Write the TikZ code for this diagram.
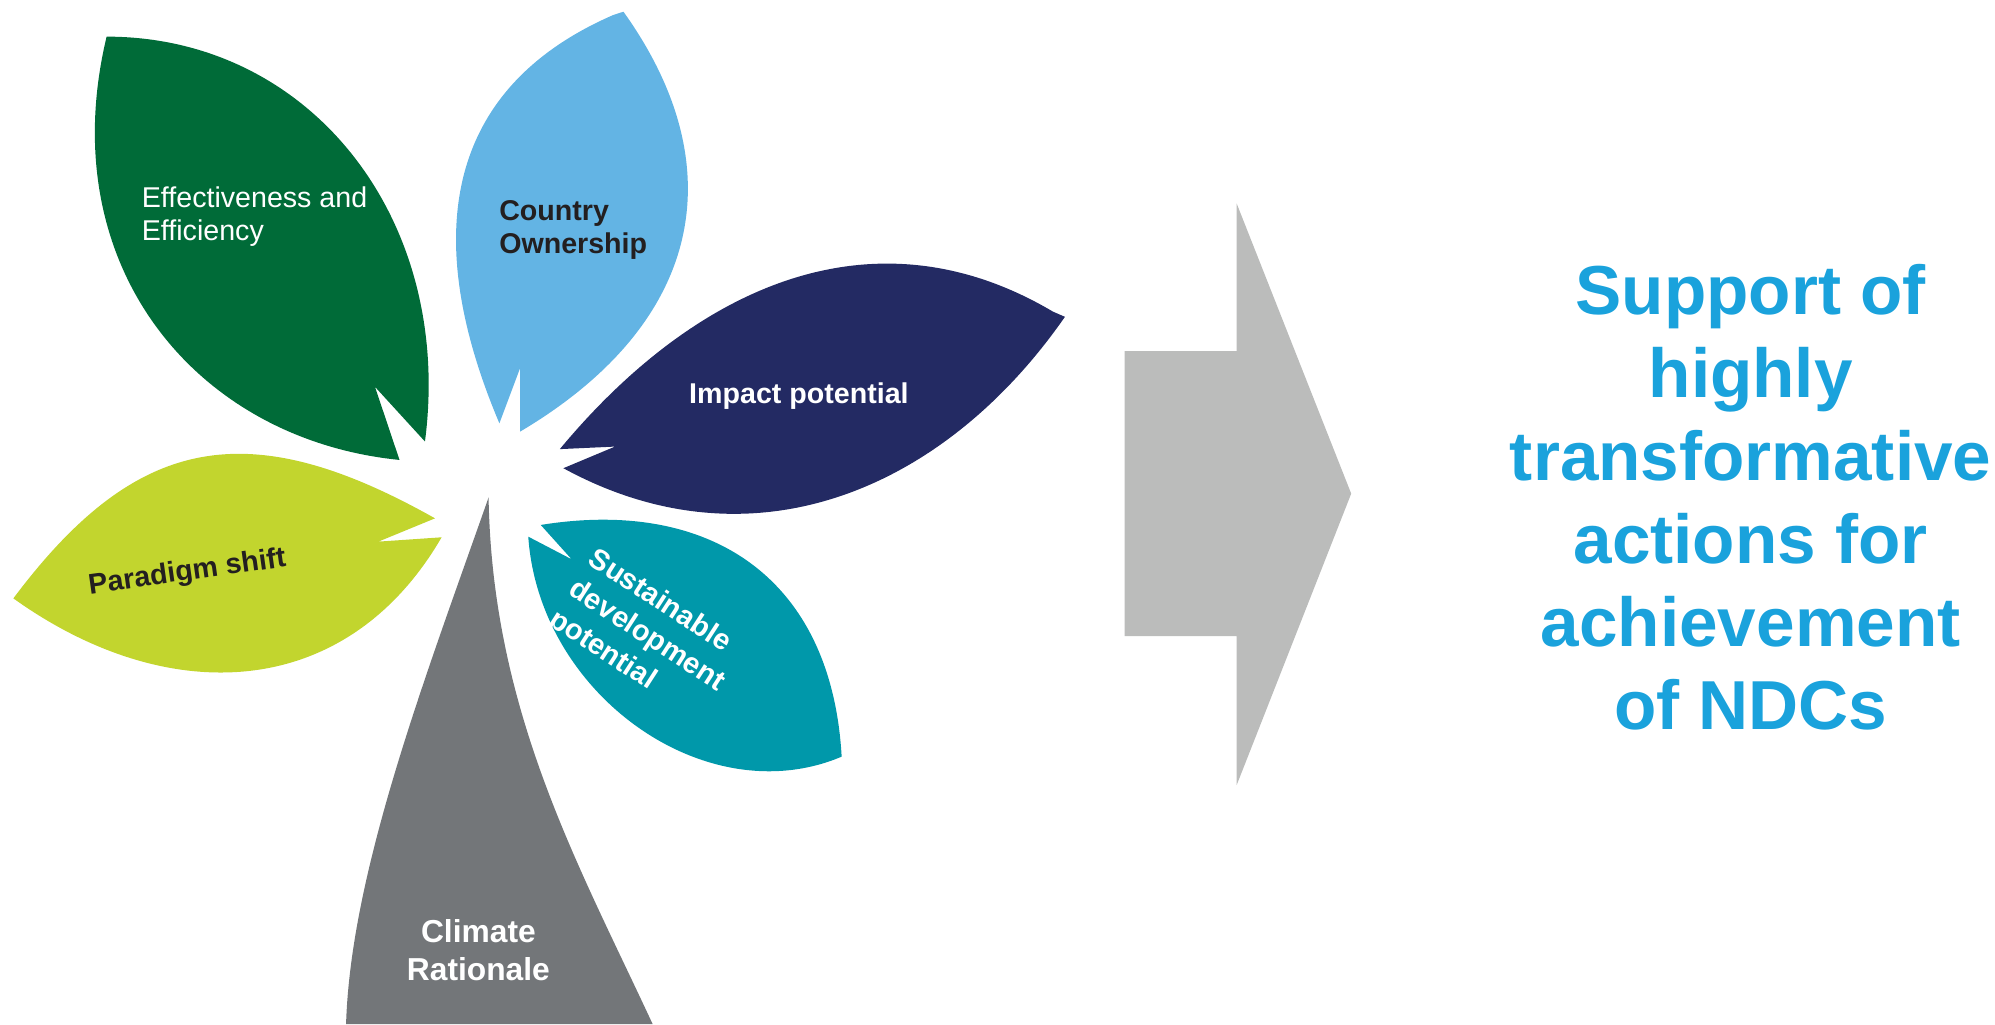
\documentclass[tikz,border=0pt]{standalone}
\usepackage{fontspec}
\setmainfont{Liberation Sans}
\definecolor{effgreen}{HTML}{006B38}
\definecolor{ownblue}{HTML}{63B4E4}
\definecolor{impnavy}{HTML}{232A63}
\definecolor{parlime}{HTML}{C2D52E}
\definecolor{susteal}{HTML}{0098AA}
\definecolor{climgray}{HTML}{737679}
\definecolor{arrowgray}{HTML}{BBBCBB}
\definecolor{goalblue}{HTML}{1AA2DC}
\definecolor{darktext}{HTML}{231F20}
\tikzset{leaftext/.style={inner sep=0pt, align=left, font=\fontsize{6.4}{7.5}\selectfont\bfseries}}

\begin{document}
\begin{tikzpicture}[x=0.1mm, y=-0.1mm]
\useasboundingbox (0,0) rectangle (1568,805);
\fill[effgreen] (314,361.5) .. controls (154,345.5) and (40.6,208.8) .. (83.8,28.8)
  .. controls (243.8,28.8) and (356.8,172) .. (334,347) -- (294.7,304) -- cycle;
\fill[ownblue] (392.5,332.7) .. controls (328.2,180.9) and (353.2,67.8) .. (482,11.8) -- (490,9.2)
  .. controls (577,130.7) and (553.2,253.6) .. (408.7,339.3) -- (408.7,289.5) -- cycle;
\fill[impnavy] (440,353) .. controls (545.6,225.9) and (685.8,160.9) .. (827.7,245) -- (837,249)
  .. controls (743,384.3) and (592.4,449.6) .. (442.8,368) -- (483.4,351) -- cycle;
\fill[parlime] (10.5,470.3) .. controls (106.5,342.3) and (194,324.1) .. (341.9,407.4) -- (297.4,425.7)
  -- (347.1,422.3) .. controls (272.1,551.3) and (132,557.3) .. (10.5,470.3) -- cycle;
\fill[susteal] (425,412.6) .. controls (558.7,391) and (653.7,454.7) .. (661.5,594.7)
  .. controls (555.7,639.6) and (423.9,546.8) .. (415.2,421.8) -- (449.3,439.6) -- cycle;
\fill[climgray] (272,805) .. controls (275.6,685) and (334.5,532) .. (384,391)
  .. controls (387,560) and (455,680) .. (513,805) -- cycle;
\fill[arrowgray] (884,276) -- (972,276) -- (972,160) -- (1062,388) -- (972,617) -- (972,500) -- (884,500) -- cycle;
\node[leaftext, text=white, anchor=north west, font=\fontsize{6.4}{7.45}\selectfont] (effect) at (110.8,146) {Effectiveness and\\Efficiency};
\node[leaftext, text=darktext, anchor=north west] (owner) at (391.7,156.7) {Country\\Ownership};
\node[leaftext, text=white, anchor=base west] (impact) at (541,317) {Impact potential};
\node[leaftext, text=darktext, anchor=base west, rotate=8] (paradigm) at (70,467) {Paradigm shift};
\node[leaftext, text=white, anchor=north west, rotate=-33, font=\fontsize{6.5}{8.1}\selectfont\bfseries] (sustain) at (470,428) {Sustainable\\development\\potential};
\node[leaftext, align=center, text=white, anchor=north, font=\fontsize{7.1}{8.5}\selectfont\bfseries] (climate) at (376,722) {Climate\\Rationale};
\node[inner sep=0pt, align=center, text=goalblue, anchor=north, font=\fontsize{15.5}{18.6}\selectfont\bfseries] (support) at (1376,206.7) {Support of\\highly\\transformative\\actions for\\achievement\\of NDCs};
\end{tikzpicture}
\end{document}
